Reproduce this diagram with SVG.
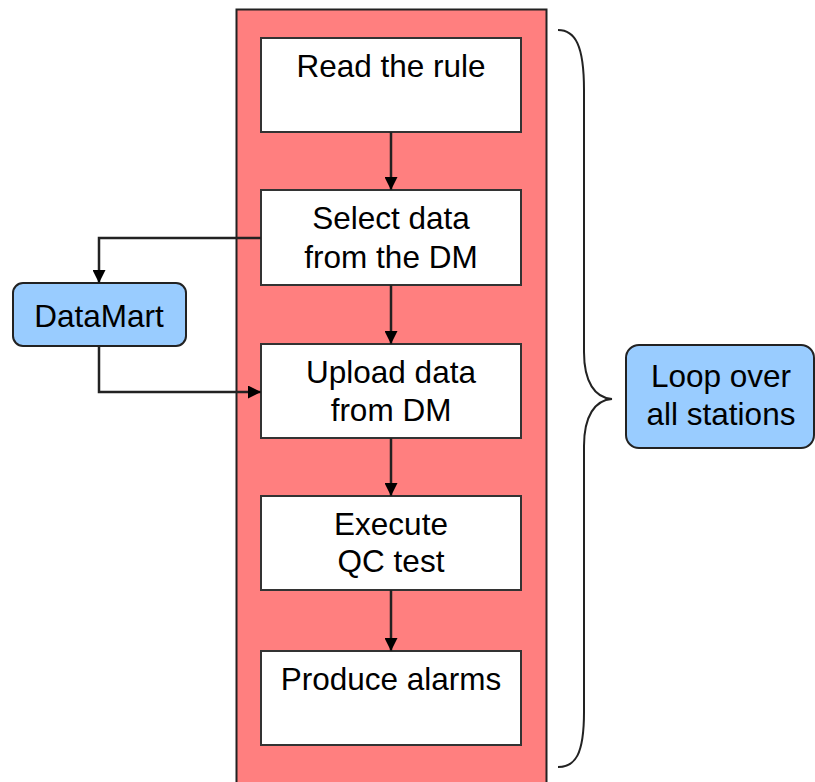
<svg xmlns="http://www.w3.org/2000/svg" width="815" height="782" viewBox="0 0 815 782">
  <defs>
    <marker id="arrow" viewBox="0 0 13 13" refX="13" refY="6.5" markerWidth="13" markerHeight="13" markerUnits="userSpaceOnUse" orient="auto">
      <path d="M0,0 L13,6.5 L0,13 Z" fill="#000"/>
    </marker>
    <style>
      .step { fill: #ffffff; stroke: #333333; stroke-width: 2; }
      .blue { fill: #99ccff; stroke: #222222; stroke-width: 2; }
      .lbl { font-family: "Liberation Sans", Arial, sans-serif; font-size: 31.5px; fill: #000; text-anchor: middle; }
      .conn { fill: none; stroke: #222222; stroke-width: 2.5; }
    </style>
  </defs>
  <rect width="815" height="782" fill="#ffffff"/>

  <g id="loop-area">
    <path d="M236.5,790 L236.5,9.5 L546.5,9.5 L546.5,790" fill="#ff7f7f" stroke="#222222" stroke-width="2"/>
  </g>

  <g id="read-rule">
    <rect class="step" x="261" y="38" width="260" height="94"/>
    <text class="lbl" x="391" y="77">Read the rule</text>
  </g>
  <g id="select-data">
    <rect class="step" x="261" y="190" width="260" height="95"/>
    <text class="lbl" x="391" y="229">Select data</text>
    <text class="lbl" x="391" y="268">from the DM</text>
  </g>
  <g id="upload-data">
    <rect class="step" x="261" y="344" width="260" height="94"/>
    <text class="lbl" x="391" y="383">Upload data</text>
    <text class="lbl" x="391" y="421">from DM</text>
  </g>
  <g id="execute-qc">
    <rect class="step" x="261" y="496" width="260" height="94"/>
    <text class="lbl" x="391" y="535">Execute</text>
    <text class="lbl" x="391" y="572">QC test</text>
  </g>
  <g id="produce-alarms">
    <rect class="step" x="261" y="651" width="260" height="94"/>
    <text class="lbl" x="391" y="690">Produce alarms</text>
  </g>

  <g id="datamart">
    <rect class="blue" x="13" y="283" width="173" height="63" rx="10" ry="10"/>
    <text class="lbl" x="99" y="327">DataMart</text>
  </g>

  <g id="loop-label">
    <rect class="blue" x="626" y="345" width="188" height="103" rx="13" ry="13"/>
    <text class="lbl" x="721" y="387">Loop over</text>
    <text class="lbl" x="721" y="425">all stations</text>
  </g>

  <g id="brace">
    <path d="M558,30 C575,30 584,45 584,90 L584,352 C584,382 595,398 612,399 C595,400 584,416 584,446 L584,712 C584,755 575,767 558,767" fill="none" stroke="#222222" stroke-width="2"/>
  </g>

  <g id="connectors">
    <line class="conn" x1="391" y1="132" x2="391" y2="190" marker-end="url(#arrow)"/>
    <line class="conn" x1="391" y1="285" x2="391" y2="344" marker-end="url(#arrow)"/>
    <line class="conn" x1="391" y1="438" x2="391" y2="496" marker-end="url(#arrow)"/>
    <line class="conn" x1="391" y1="590" x2="391" y2="651" marker-end="url(#arrow)"/>
    <polyline class="conn" points="261,238 99,238 99,283" marker-end="url(#arrow)"/>
    <polyline class="conn" points="99,346 99,392 261,392" marker-end="url(#arrow)"/>
  </g>
</svg>
